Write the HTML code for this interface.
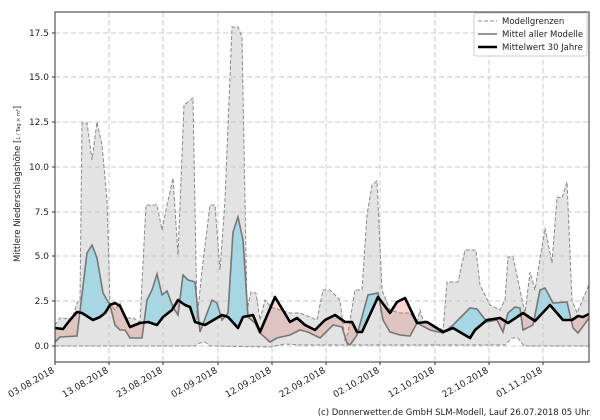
<!DOCTYPE html>
<html><head><meta charset="utf-8"><style>
html,body{margin:0;padding:0;background:#fff;}
svg{display:block;font-family:"DejaVu Sans","Liberation Sans",sans-serif;}
</style></head><body>
<svg width="600" height="420" viewBox="0 0 600 420" xmlns="http://www.w3.org/2000/svg">
<defs>
<clipPath id="above"><polygon points="55,0 589,0 589,314 583,317 578,316 572,320 563,320 550,305 535,321 523,313 508,323 500,318 487,320 475,330 470,338 453,328 443,332 427,322 417,323 405,298 397,302 390,313 378,297 362,332 357,332 352,322 345,322 335,315 325,320 315,330 305,325 297,318 290,322 275,297 260,332 253,315 243,317 238,328 228,317 222,315 205,325 195,322 190,307 185,305 178,300 172,310 163,317 157,325 148,322 140,323 130,327 120,306 115,303 110,305 105,313 100,317 93,320 82,313 77,312 70,320 63,329 55,328"/></clipPath>
<clipPath id="below"><polygon points="55,420 589,420 589,314 583,317 578,316 572,320 563,320 550,305 535,321 523,313 508,323 500,318 487,320 475,330 470,338 453,328 443,332 427,322 417,323 405,298 397,302 390,313 378,297 362,332 357,332 352,322 345,322 335,315 325,320 315,330 305,325 297,318 290,322 275,297 260,332 253,315 243,317 238,328 228,317 222,315 205,325 195,322 190,307 185,305 178,300 172,310 163,317 157,325 148,322 140,323 130,327 120,306 115,303 110,305 105,313 100,317 93,320 82,313 77,312 70,320 63,329 55,328"/></clipPath>
<polygon id="mp" points="55,342 60,337 77,336 87,253 92,245 97,258 103,293 110,305 115,325 120,330 125,330 130,338 142,338 147,300 152,290 157,274 162,295 167,291 173,307 178,315 183,275 188,280 195,282 200,332 212,300 217,303 222,320 228,313 233,232 238,217 243,240 248,317 255,323 260,333 270,342 277,338 290,335 300,330 308,332 320,338 333,325 342,327 347,343 350,345 357,335 368,295 378,293 383,320 390,332 400,335 410,336 417,323 430,330 443,333 453,325 460,318 470,308 477,309 487,322 497,320 503,332 508,313 515,307 520,308 523,330 533,325 540,290 545,288 553,303 567,302 573,328 578,333 589,318 589,314 583,317 578,316 572,320 563,320 550,305 535,321 523,313 508,323 500,318 487,320 475,330 470,338 453,328 443,332 427,322 417,323 405,298 397,302 390,313 378,297 362,332 357,332 352,322 345,322 335,315 325,320 315,330 305,325 297,318 290,322 275,297 260,332 253,315 243,317 238,328 228,317 222,315 205,325 195,322 190,307 185,305 178,300 172,310 163,317 157,325 148,322 140,323 130,327 120,306 115,303 110,305 105,313 100,317 93,320 82,313 77,312 70,320 63,329 55,328"/>
</defs>
<use href="#mp" clip-path="url(#above)" fill="rgb(177,240,255)"/>
<use href="#mp" clip-path="url(#below)" fill="#fad6d0"/>
<!-- grey min-max band -->
<polygon fill="rgba(140,140,140,0.24)" points="55,325 60,318 72,319 77,303 80,300 82,123 87,123 92,160 97,122 102,145 107,200 110,303 115,310 120,303 125,318 133,318 140,322 146,205 157,205 162,230 167,205 173,178 178,255 184,105 193,98 197,320 202,270 210,205 215,205 220,270 225,200 232,27 238,27 242,37 247,310 251,292 256,293 260,320 265,300 271,307 280,310 290,313 300,313 317,320 323,290 330,290 340,300 345,340 348,333 355,290 362,290 367,215 372,185 377,181 382,290 390,310 400,313 410,313 417,323 420,310 423,320 437,327 443,330 447,282 458,282 465,250 476,250 480,285 490,305 500,310 505,300 508,257 513,257 520,290 525,313 530,272 535,290 545,228 552,263 557,197 562,198 567,182 572,300 577,313 588,287 589,285 589,346 524,346 518,338 512,338 505,345 300,345 285,344 270,347 210,346 205,342 200,343 195,346 55,346"/>
<!-- grid -->
<g stroke="#c8c8c8" stroke-width="1" stroke-dasharray="5,3" fill="none">
<line x1="55" y1="346" x2="589" y2="346"/><line x1="55" y1="301" x2="589" y2="301"/><line x1="55" y1="256" x2="589" y2="256"/><line x1="55" y1="212" x2="589" y2="212"/><line x1="55" y1="167" x2="589" y2="167"/><line x1="55" y1="122" x2="589" y2="122"/><line x1="55" y1="77" x2="589" y2="77"/><line x1="55" y1="33" x2="589" y2="33"/>
<line x1="109" y1="12" x2="109" y2="362"/><line x1="163" y1="12" x2="163" y2="362"/><line x1="218" y1="12" x2="218" y2="362"/><line x1="272" y1="12" x2="272" y2="362"/><line x1="326" y1="12" x2="326" y2="362"/><line x1="380" y1="12" x2="380" y2="362"/><line x1="435" y1="12" x2="435" y2="362"/><line x1="489" y1="12" x2="489" y2="362"/><line x1="543" y1="12" x2="543" y2="362"/>
</g>
<!-- max / min dashed -->
<polyline fill="none" stroke="#8a8a8a" stroke-width="1" stroke-dasharray="4,2" points="55,325 60,318 72,319 77,303 80,300 82,123 87,123 92,160 97,122 102,145 107,200 110,303 115,310 120,303 125,318 133,318 140,322 146,205 157,205 162,230 167,205 173,178 178,255 184,105 193,98 197,320 202,270 210,205 215,205 220,270 225,200 232,27 238,27 242,37 247,310 251,292 256,293 260,320 265,300 271,307 280,310 290,313 300,313 317,320 323,290 330,290 340,300 345,340 348,333 355,290 362,290 367,215 372,185 377,181 382,290 390,310 400,313 410,313 417,323 420,310 423,320 437,327 443,330 447,282 458,282 465,250 476,250 480,285 490,305 500,310 505,300 508,257 513,257 520,290 525,313 530,272 535,290 545,228 552,263 557,197 562,198 567,182 572,300 577,313 588,287 589,285"/>
<polyline fill="none" stroke="#8a8a8a" stroke-width="1" stroke-dasharray="4,2" points="55,346 195,346 200,343 205,342 210,346 270,347 285,344 300,345 505,345 512,338 518,338 524,346 589,346"/>
<!-- mean -->
<polyline fill="none" stroke="#777" stroke-width="1.6" points="55,342 60,337 77,336 87,253 92,245 97,258 103,293 110,305 115,325 120,330 125,330 130,338 142,338 147,300 152,290 157,274 162,295 167,291 173,307 178,315 183,275 188,280 195,282 200,332 212,300 217,303 222,320 228,313 233,232 238,217 243,240 248,317 255,323 260,333 270,342 277,338 290,335 300,330 308,332 320,338 333,325 342,327 347,343 350,345 357,335 368,295 378,293 383,320 390,332 400,335 410,336 417,323 430,330 443,333 453,325 460,318 470,308 477,309 487,322 497,320 503,332 508,313 515,307 520,308 523,330 533,325 540,290 545,288 553,303 567,302 573,328 578,333 589,318"/>
<!-- 30 yr -->
<polyline fill="none" stroke="#000" stroke-width="2.6" stroke-linejoin="round" points="55,328 63,329 70,320 77,312 82,313 93,320 100,317 105,313 110,305 115,303 120,306 130,327 140,323 148,322 157,325 163,317 172,310 178,300 185,305 190,307 195,322 205,325 222,315 228,317 238,328 243,317 253,315 260,332 275,297 290,322 297,318 305,325 315,330 325,320 335,315 345,322 352,322 357,332 362,332 378,297 390,313 397,302 405,298 417,323 427,322 443,332 453,328 470,338 475,330 487,320 500,318 508,323 523,313 535,321 550,305 563,320 572,320 578,316 583,317 589,314"/>
<!-- frame -->
<rect x="55" y="12" width="534" height="350" fill="none" stroke="#333" stroke-width="1"/>
<!-- y ticks -->
<g font-size="9" fill="#222" text-anchor="end">
<text x="49" y="349">0.0</text><text x="49" y="304">2.5</text><text x="49" y="259">5.0</text><text x="49" y="215">7.5</text><text x="49" y="170">10.0</text><text x="49" y="125">12.5</text><text x="49" y="80">15.0</text><text x="49" y="36">17.5</text>
</g>
<g stroke="#333"><line x1="52" y1="346" x2="55" y2="346"/><line x1="52" y1="301" x2="55" y2="301"/><line x1="52" y1="256" x2="55" y2="256"/><line x1="52" y1="212" x2="55" y2="212"/><line x1="52" y1="167" x2="55" y2="167"/><line x1="52" y1="122" x2="55" y2="122"/><line x1="52" y1="77" x2="55" y2="77"/><line x1="52" y1="33" x2="55" y2="33"/>
<line x1="55" y1="362" x2="55" y2="365"/><line x1="109" y1="362" x2="109" y2="365"/><line x1="163" y1="362" x2="163" y2="365"/><line x1="218" y1="362" x2="218" y2="365"/><line x1="272" y1="362" x2="272" y2="365"/><line x1="326" y1="362" x2="326" y2="365"/><line x1="380" y1="362" x2="380" y2="365"/><line x1="435" y1="362" x2="435" y2="365"/><line x1="489" y1="362" x2="489" y2="365"/><line x1="543" y1="362" x2="543" y2="365"/></g>
<g font-size="9" fill="#222" text-anchor="end">
<text transform="translate(55,372) rotate(-30)">03.08.2018</text>
<text transform="translate(109,372) rotate(-30)">13.08.2018</text>
<text transform="translate(163,372) rotate(-30)">23.08.2018</text>
<text transform="translate(218,372) rotate(-30)">02.09.2018</text>
<text transform="translate(272,372) rotate(-30)">12.09.2018</text>
<text transform="translate(326,372) rotate(-30)">22.09.2018</text>
<text transform="translate(380,372) rotate(-30)">02.10.2018</text>
<text transform="translate(435,372) rotate(-30)">12.10.2018</text>
<text transform="translate(489,372) rotate(-30)">22.10.2018</text>
<text transform="translate(543,372) rotate(-30)">01.11.2018</text>
</g>
<text transform="translate(20,262) rotate(-90)" font-size="8.5" fill="#222">Mittlere Niederschlagshöhe [<tspan font-size="5">L / Tag × m²</tspan>]</text>
<!-- legend -->
<rect x="474" y="13" width="113" height="43" rx="2" fill="rgba(255,255,255,0.85)" stroke="#ccc"/>
<g font-size="8.5" fill="#222">
<line x1="478" y1="21" x2="497" y2="21" stroke="#8a8a8a" stroke-dasharray="4,2"/><text x="502" y="24">Modellgrenzen</text>
<line x1="478" y1="34" x2="497" y2="34" stroke="#777" stroke-width="1.6"/><text x="502" y="37">Mittel aller Modelle</text>
<line x1="478" y1="47" x2="497" y2="47" stroke="#000" stroke-width="2.6"/><text x="502" y="50">Mittelwert 30 Jahre</text>
</g>
<text x="590" y="415" font-size="8.5" fill="#222" text-anchor="end">(c) Donnerwetter.de GmbH SLM-Modell, Lauf 26.07.2018 05 Uhr</text>
</svg>
</body></html>
